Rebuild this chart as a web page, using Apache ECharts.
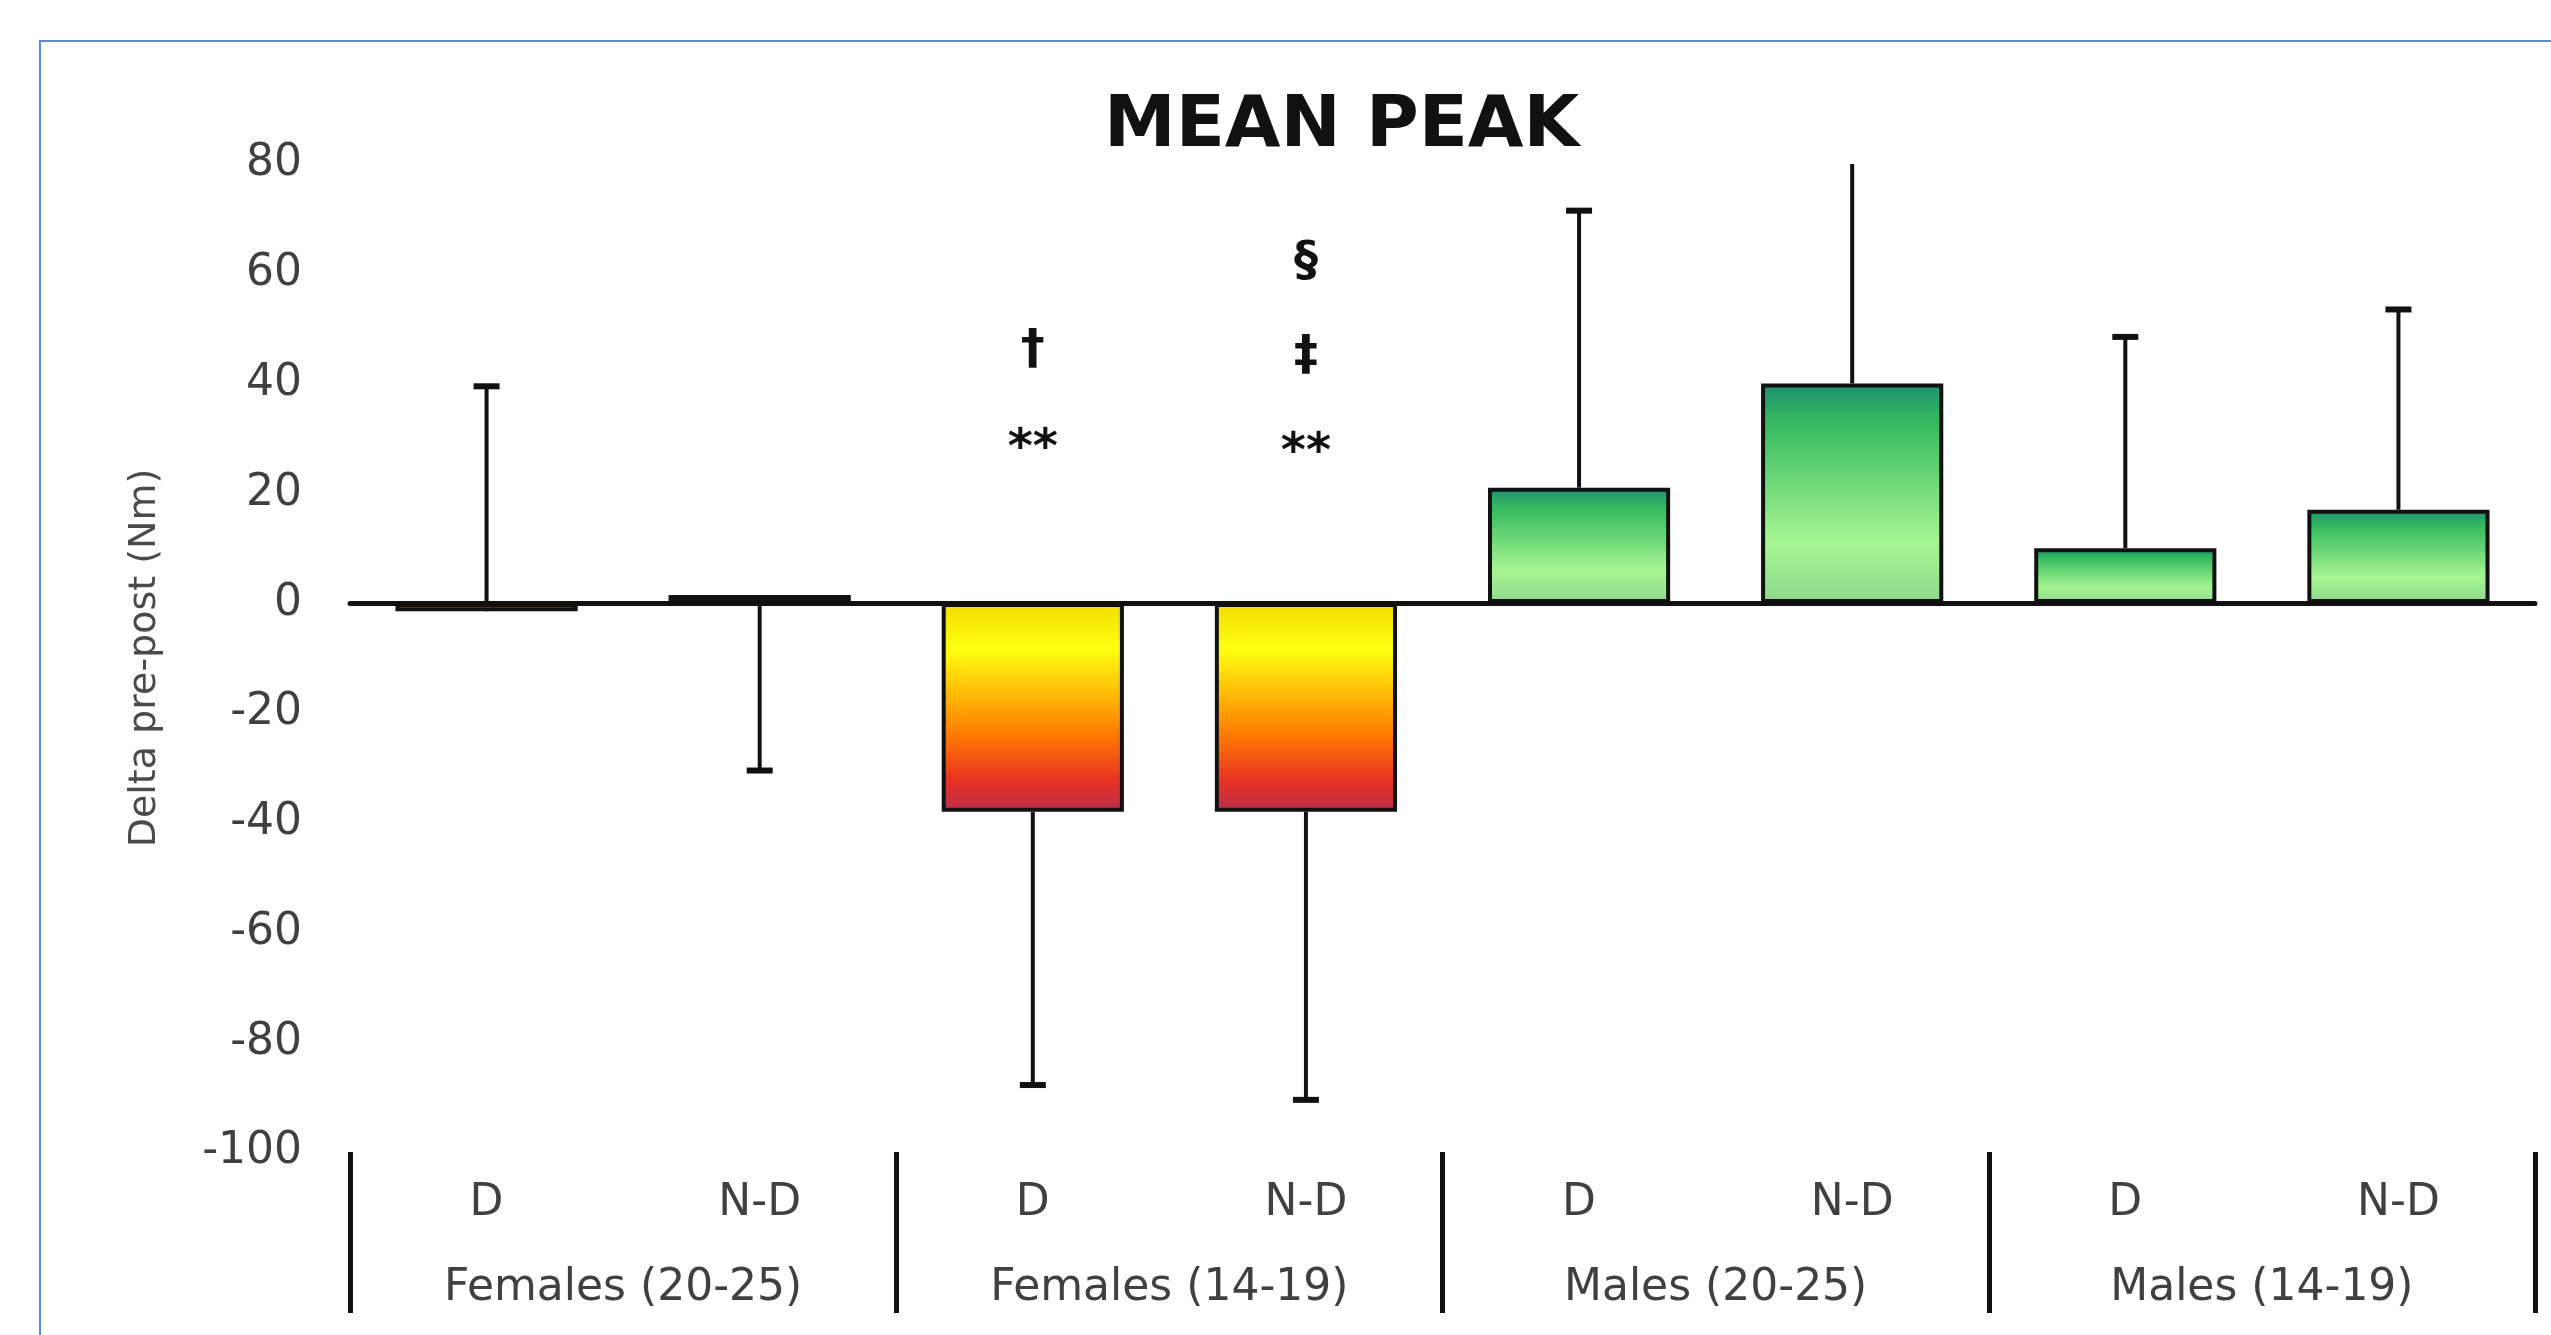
<!DOCTYPE html>
<html>
<head>
<meta charset="utf-8">
<title>Mean peak</title>
<script src="https://cdn.jsdelivr.net/npm/echarts@6/dist/echarts.min.js"></script>
<style>
  html, body { margin: 0; padding: 0; background: #fff; }
  #main { width: 2551px; height: 1335px; }
</style>
</head>
<body>
<div id="main"></div>
<script>
// data
var sides = ['D', 'N-D', 'D', 'N-D', 'D', 'N-D', 'D', 'N-D'];
var groups = ['Females (20-25)', 'Females (14-19)', 'Males (20-25)', 'Males (14-19)'];
var meanDelta = [-1.5, 1.5, -38, -38, 21, 40, 10, 17];
// where each error bar ends (one-sided)
var errorEnd = [39.5, -30.5, -87.8, -90.5, 71.5, 82, 48.5, 53.5];
var yTicks = [-100, -80, -60, -40, -20, 0, 20, 40, 60, 80];

// significance marks above the Females (14-19) bars
var noteIndex = [2, 2, 3, 3, 3];
var noteLevel = [46, 28, 62, 45, 27.3];
var noteText = ['†', '**', '§', '‡', '**'];

var chart = echarts.init(document.getElementById('main'));

var greenFill = new echarts.graphic.LinearGradient(0, 0, 0, 1, [
  { offset: 0, color: '#1f9072' },
  { offset: 0.18, color: '#34bb5e' },
  { offset: 0.72, color: '#a8f593' },
  { offset: 1, color: '#8ed88c' }
]);
var hotFill = new echarts.graphic.LinearGradient(0, 0, 0, 1, [
  { offset: 0, color: '#f2dc00' },
  { offset: 0.22, color: '#ffff10' },
  { offset: 0.62, color: '#ff7e00' },
  { offset: 0.85, color: '#e83222' },
  { offset: 1, color: '#bb2e4c' }
]);

var barData = meanDelta.map(function (v) {
  return { value: v, itemStyle: { color: v >= 0 ? greenFill : hotFill } };
});
var errData = meanDelta.map(function (v, i) { return [i, v, errorEnd[i]]; });
var noteData = noteText.map(function (t, i) { return [noteIndex[i], noteLevel[i], t]; });

var option = {
  backgroundColor: '#fff',
  animation: false,
  title: {
    text: 'MEAN PEAK',
    left: 1099,
    top: 86,
    textStyle: {
      fontFamily: 'DejaVu Sans',
      fontWeight: 'bold',
      fontSize: 72,
      color: '#111'
    }
  },
  graphic: [{
    type: 'rect',
    shape: { x: 40, y: 41, width: 2600, height: 1400 },
    style: { fill: null, stroke: '#5a8ad8', lineWidth: 2 },
    silent: true
  }],
  grid: { left: 350, right: 16, top: 164, bottom: 183 },
  xAxis: [{
    type: 'category',
    data: sides,
    axisLine: { onZero: true, lineStyle: { color: '#111', width: 5 } },
    axisTick: { show: false },
    axisLabel: { show: false }
  }, {
    type: 'category',
    data: sides,
    position: 'bottom',
    axisLine: { show: false, onZero: false },
    axisTick: { show: false },
    axisLabel: {
      margin: 30,
      fontFamily: 'DejaVu Sans',
      fontSize: 44,
      color: '#404040'
    }
  }, {
    type: 'category',
    data: groups,
    position: 'bottom',
    axisLine: { show: false, onZero: false },
    axisTick: { show: true, length: 161, lineStyle: { color: '#111', width: 5 } },
    axisLabel: {
      margin: 115,
      fontFamily: 'DejaVu Sans',
      fontSize: 44,
      color: '#404040'
    }
  }],
  yAxis: {
    type: 'value',
    min: yTicks[0],
    max: yTicks[yTicks.length - 1],
    interval: 20,
    name: 'Delta pre-post (Nm)',
    nameLocation: 'middle',
    nameRotate: 90,
    nameGap: 186,
    nameTextStyle: { fontFamily: 'DejaVu Sans', fontSize: 38, color: '#4a4a4a' },
    axisLine: { show: false },
    axisTick: { show: false },
    splitLine: { show: false },
    axisLabel: {
      margin: 48,
      fontFamily: 'DejaVu Sans',
      fontSize: 44,
      color: '#404040'
    }
  },
  series: [{
    name: 'mean',
    type: 'bar',
    xAxisIndex: 0,
    barWidth: '66.7%',
    data: barData,
    itemStyle: { borderColor: '#111', borderWidth: 4 },
    z: 3
  }, {
    name: 'error',
    type: 'custom',
    xAxisIndex: 0,
    clip: true,
    data: errData,
    z: 2,
    renderItem: function (params, api) {
      var from = api.coord([api.value(0), api.value(1)]);
      var to = api.coord([api.value(0), api.value(2)]);
      var half = 13;
      return {
        type: 'group',
        children: [{
          type: 'line',
          shape: { x1: from[0], y1: from[1], x2: to[0], y2: to[1] },
          style: { stroke: '#111', lineWidth: 4 }
        }, {
          type: 'line',
          shape: { x1: to[0] - half, y1: to[1], x2: to[0] + half, y2: to[1] },
          style: { stroke: '#111', lineWidth: 6 }
        }]
      };
    }
  }, {
    name: 'notes',
    type: 'custom',
    xAxisIndex: 0,
    data: noteData,
    z: 4,
    renderItem: function (params, api) {
      var p = api.coord([api.value(0), api.value(1)]);
      return {
        type: 'text',
        x: p[0],
        y: p[1],
        style: {
          text: noteText[params.dataIndex],
          textAlign: 'center',
          textVerticalAlign: 'middle',
          fontFamily: 'DejaVu Sans',
          fontWeight: 'bold',
          fontSize: 48,
          fill: '#111'
        }
      };
    }
  }]
};

chart.setOption(option);
</script>
</body>
</html>
